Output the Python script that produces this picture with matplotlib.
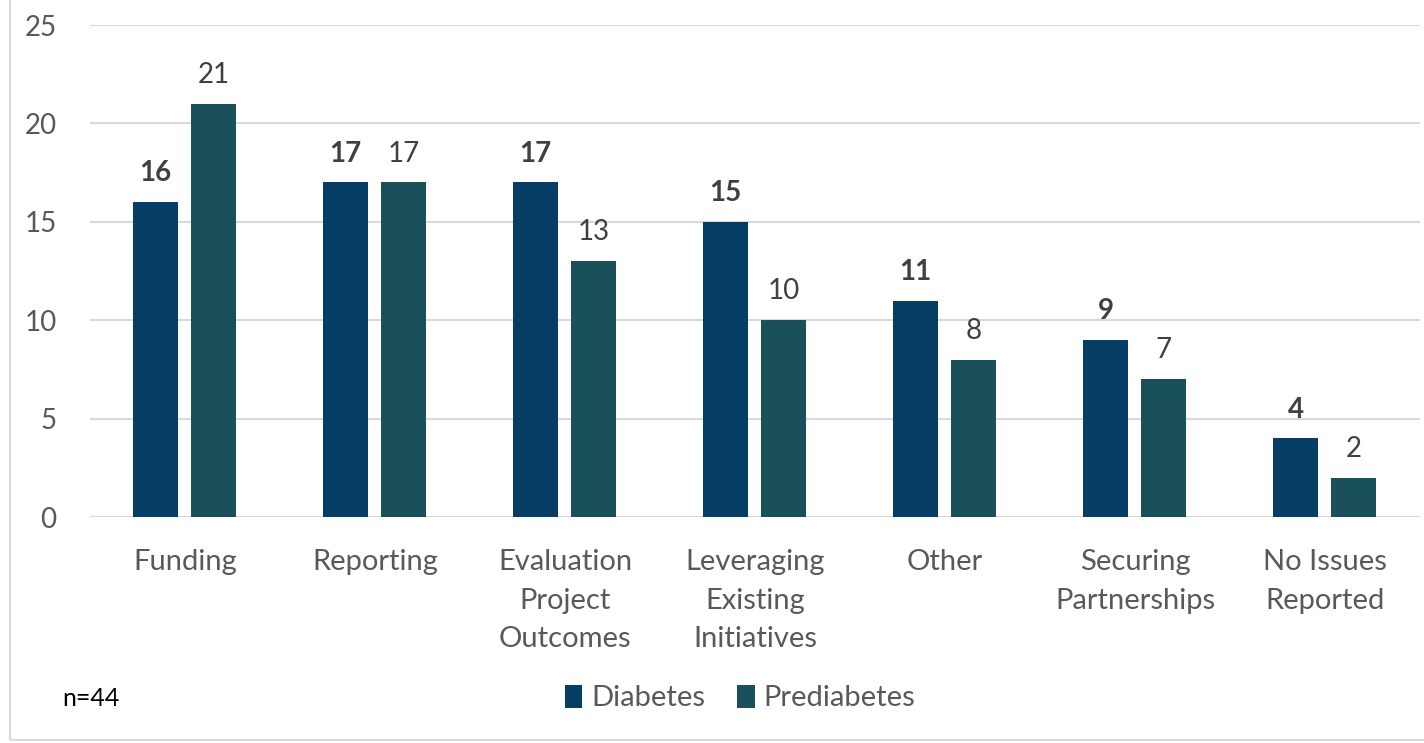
import numpy as np
import matplotlib.pyplot as plt
from matplotlib.patches import Rectangle

categories = ['Funding', 'Reporting', 'Evaluation\nProject\nOutcomes',
              'Leveraging\nExisting\nInitiatives', 'Other',
              'Securing\nPartnerships', 'No Issues\nReported']
diabetes = [16, 17, 17, 15, 11, 9, 4]
prediabetes = [21, 17, 13, 10, 8, 7, 2]

c_diab = '#053d65'
c_pre = '#19505a'
txt = '#595959'

plt.rcParams['font.family'] = ['Lato', 'DejaVu Sans']

fig = plt.figure(figsize=(14.24, 7.43), dpi=100)
ax = fig.add_axes([90/1424, 1 - 517/743, 1330/1424, 492/743])

x = np.arange(len(categories))
w = 0.237
b1 = ax.bar(x - 0.155, diabetes, w, color=c_diab, label='Diabetes', zorder=3)
b2 = ax.bar(x + 0.15, prediabetes, w, color=c_pre, label='Prediabetes', zorder=3)

# value labels: bold for diabetes, regular for prediabetes
for rect, v in zip(b1, diabetes):
    ax.text(rect.get_x() + rect.get_width()/2, v + 0.8, str(v), ha='center', va='bottom',
            fontsize=20, fontweight='bold', color='#404040')
for rect, v in zip(b2, prediabetes):
    ax.text(rect.get_x() + rect.get_width()/2, v + 0.8, str(v), ha='center', va='bottom',
            fontsize=20, color='#404040')

ax.set_xlim(-0.5, len(categories) - 0.5)
ax.set_ylim(0, 25)
ax.set_yticks(range(0, 26, 5))
ax.yaxis.grid(True, color='#d9d9d9', linewidth=1.5, zorder=0)
ax.set_axisbelow(True)
for s in ax.spines.values():
    s.set_visible(False)
ax.tick_params(length=0, labelsize=20, colors=txt)
ax.tick_params(axis='y', pad=24)
ax.tick_params(axis='x', pad=23, labelsize=21)
ax.set_xticks(x)
ax.set_xticklabels(categories, linespacing=1.6)

fig.legend(loc='center', bbox_to_anchor=(740/1424, 1 - 698/743), ncol=2, frameon=False,
           fontsize=21, labelcolor=txt, handlelength=0.6, handleheight=0.85,
           handletextpad=0.3, columnspacing=1.1)
fig.text(62/1424, 1 - 698/743, 'n=44', fontsize=18, color='black', va='center')

fig.patches.append(Rectangle((10/1424, 3/743), 1.2, 1.2, transform=fig.transFigure,
                             fill=False, edgecolor='#d9d9d9', linewidth=1.5))

fig.savefig('out.png', dpi=100)
